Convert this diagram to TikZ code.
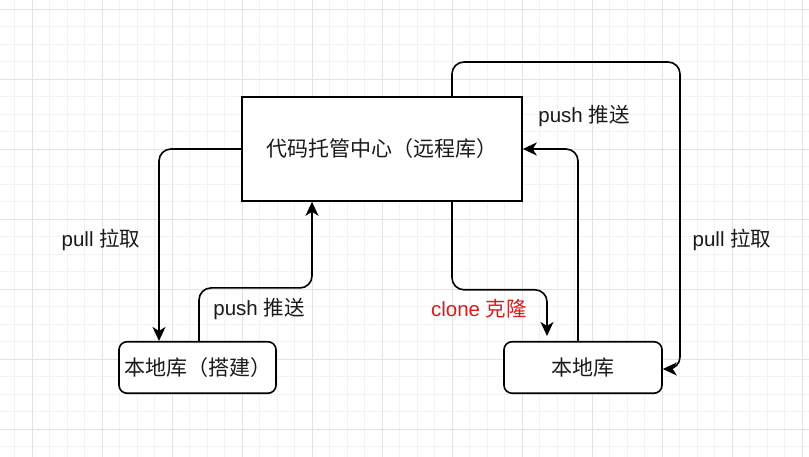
\documentclass[tikz,border=0pt]{standalone}
\usepackage{fontspec}
\setmainfont{Liberation Sans}
\newfontfamily\cjk{Noto Sans CJK SC}
\usetikzlibrary{arrows.meta}
\definecolor{gridmajor}{HTML}{E2E2E2}
\definecolor{gridminor}{HTML}{F2F2F2}
\definecolor{clonered}{HTML}{D81B1B}
\definecolor{txt}{HTML}{1A1A1A}
\tikzset{
  boxshape/.style={draw=black, line width=1.6pt, fill=white, inner sep=0pt, font=\fontsize{21}{25}\selectfont\cjk, text=txt},
  conn/.style={draw=black, line width=1.6pt, rounded corners=12pt, -{Stealth[length=14pt,width=13pt,inset=4pt]}},
  lbl/.style={font=\fontsize{20.5}{24}\selectfont, text=txt, inner sep=0pt},
  minorline/.style={gridminor, line width=0.8pt},
  majorline/.style={gridmajor, line width=1pt}
}
\begin{document}
\begin{tikzpicture}[x=1pt,y=-1pt]
\useasboundingbox (0,0) rectangle (809,457);
\fill[white] (0,0) rectangle (809,457);
% grid
\foreach \x in {14.5,32,...,809} \draw[minorline] (\x,0) -- (\x,457);
\foreach \y in {9.3,26.8,...,457} \draw[minorline] (0,\y) -- (809,\y);
\foreach \x in {32,102,...,809} \draw[majorline] (\x,0) -- (\x,457);
\foreach \y in {9.3,79.3,...,457} \draw[majorline] (0,\y) -- (809,\y);
% nodes
\node[boxshape, minimum width=280pt, minimum height=104pt] (remote) at (382,149) {代码托管中心（远程库）};
\node[boxshape, rounded corners=8pt, minimum width=157pt, minimum height=51.5pt] (local1) at (197.5,367.5) {本地库（搭建）};
\node[boxshape, rounded corners=8pt, minimum width=158pt, minimum height=51.5pt] (local2) at (583,367.5) {本地库};
\coordinate (pr) at (680,62);
% connectors
\draw[conn] (remote.west) -| ([xshift=-38.5pt]local1.north);
\draw[conn] ([xshift=1.5pt]local1.north) -- ++(0,-53) -| ([xshift=-70pt]remote.south);
\draw[conn] ([xshift=70pt]remote.south) -- ++(0,88) -| ([xshift=-36pt,yshift=5pt]local2.north);
\draw[conn] ([xshift=-5pt]local2.north) |- (remote.east);
\draw[conn] ([xshift=70pt]remote.north) |- (pr) |- ([yshift=-1.5pt]local2.east);
% labels
\node[lbl] (l1) at (101,240) {pull {\cjk 拉取}};
\node[lbl] (l2) at (259,309) {push {\cjk 推送}};
\node[lbl, text=clonered] (l3) at (479,309) {clone {\cjk 克隆}};
\node[lbl] (l4) at (584,116) {push {\cjk 推送}};
\node[lbl] (l5) at (732,240) {pull {\cjk 拉取}};
\end{tikzpicture}
\end{document}
